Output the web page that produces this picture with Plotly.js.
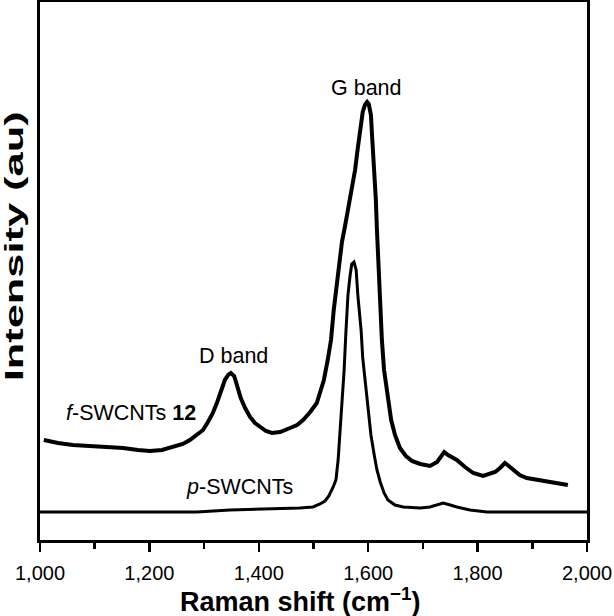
<!DOCTYPE html>
<html>
<head>
<meta charset="utf-8">
<script src="https://cdn.plot.ly/plotly-3.0.1.min.js"></script>
<style>html,body{margin:0;padding:0;background:#fff;}#chart{width:614px;height:616px;}</style>
</head>
<body>
<div id="chart"></div>
<script>
// f-SWCNTs 12 spectrum (Raman shift in cm-1, intensity in arbitrary units)
const fShift = [1007,1033,1060,1091,1119,1152,1179,1201,1223,1243,1261,1274,1287,1298,1307,1316,1324,1331,1338,1344,1349,1355,1362,1367,1375,1384,1393,1402,1413,1424,1439,1457,1470,1481,1494,1506,1514,1519,1526,1532,1537,1543,1547,1552,1558,1567,1576,1581,1587,1590,1594,1598,1601,1605,1607,1611,1614,1616,1618,1622,1625,1629,1636,1642,1649,1658,1669,1680,1695,1713,1726,1733,1739,1746,1755,1762,1777,1792,1810,1832,1841,1850,1857,1865,1877,1890,1914,1938,1965];
const fIntensity = [100,97,95,94,94,92,90,89,90,93,96,100,106,110,118,127,138,150,160,165,167,164,150,142,132,123,117,113,109,107,108,112,115,120,128,137,150,160,180,200,230,260,282,298,315,342,370,392,415,428,435,438,436,425,405,375,340,310,283,240,200,170,140,120,105,92,84,79,76,74,78,84,88,85,82,80,73,67,64,68,72,77,74,70,65,62,60,57,55];

// p-SWCNTs spectrum
const pShift = [1000,1110,1201,1287,1347,1420,1475,1499,1512,1521,1528,1536,1541,1545,1548,1552,1556,1559,1563,1567,1570,1574,1578,1581,1587,1590,1596,1600,1605,1611,1616,1622,1629,1636,1649,1664,1695,1713,1726,1737,1750,1762,1786,1817,2000];
const pIntensity = [28,28,28,28,30,31,32,33,36,39,44,53,60,80,102,135,170,205,245,265,276,278,270,245,210,182,150,130,105,85,70,58,47,40,35,33,32,33,35,37,35,33,30,28,28];

const xTickVals = [1000,1200,1400,1600,1800,2000];
const xTickText = ["1,000","1,200","1,400","1,600","1,800","2,000"];

const font = "Liberation Sans, Arial, Helvetica, sans-serif";

const traces = [
  {x: fShift, y: fIntensity, type: 'scatter', mode: 'lines', line: {color: '#000', width: 4}, hoverinfo: 'skip'},
  {x: pShift, y: pIntensity, type: 'scatter', mode: 'lines', line: {color: '#000', width: 3}, hoverinfo: 'skip'}
];

const layout = {
  width: 614, height: 616,
  margin: {l: 40, r: 27, t: 2, b: 76},
  paper_bgcolor: '#fff', plot_bgcolor: '#fff',
  showlegend: false,
  font: {family: font, color: '#000', size: 20},
  xaxis: {
    range: [1000, 2000],
    tickvals: xTickVals, ticktext: xTickText,
    ticks: 'outside', ticklen: 9, tickwidth: 2.5, tickcolor: '#000',
    minor: {dtick: 100, tick0: 1000, ticks: 'outside', ticklen: 6, tickwidth: 2.5, tickcolor: '#000'},
    showline: true, linewidth: 3, linecolor: '#000', mirror: true,
    showgrid: false, zeroline: false,
    tickfont: {family: font, size: 20, color: '#000'},
    ticklabelstandoff: 4
  },
  yaxis: {
    range: [0, 538],
    showticklabels: false, ticks: '',
    showline: true, linewidth: 3, linecolor: '#000', mirror: true,
    showgrid: false, zeroline: false
  },
  annotations: [
    {xref: 'paper', yref: 'paper', x: 0.477, y: -0.112, showarrow: false,
     text: '<b>Raman shift (cm<sup>−1</sup>)</b>', font: {family: font, size: 27, color: '#000'}, xanchor: 'center', yanchor: 'middle'},
    {xref: 'paper', yref: 'paper', x: 0, y: 0.546, xshift: -26, textangle: -90, showarrow: false,
     text: '<b>Intensity (au)</b>', font: {family: font, size: 25, color: '#000'}, xanchor: 'center', yanchor: 'middle'},
    {x: 1596, y: 452, text: 'G band', showarrow: false, font: {family: font, size: 21.5, color: '#000'}},
    {x: 1353, y: 184, text: 'D band', showarrow: false, font: {family: font, size: 21.5, color: '#000'}},
    {x: 1166, y: 127, text: '<i>f</i>-SWCNTs <b>12</b>', showarrow: false, font: {family: font, size: 21.5, color: '#000'}},
    {x: 1364, y: 53, text: '<i>p</i>-SWCNTs', showarrow: false, font: {family: font, size: 21.5, color: '#000'}}
  ]
};

Plotly.newPlot('chart', traces, layout, {staticPlot: true, displayModeBar: false}).then(function (gd) {
  // the reference's vertical title is drawn elongated along its length; stretch it to match
  const ann = gd.querySelectorAll('g.annotation')[1];
  if (!ann) return;
  const svgBox = gd.querySelector('svg.main-svg').getBoundingClientRect();
  const r = ann.getBoundingClientRect();
  const cx = r.left - svgBox.left + r.width / 2;
  const cy = r.top - svgBox.top + r.height / 2;
  const targetLen = 276, targetCy = 246;
  const s = targetLen / r.height;
  ann.setAttribute('transform', 'translate(' + cx + ',' + targetCy + ') scale(1,' + s + ') translate(' + (-cx) + ',' + (-cy) + ')');
});
</script>
</body>
</html>
